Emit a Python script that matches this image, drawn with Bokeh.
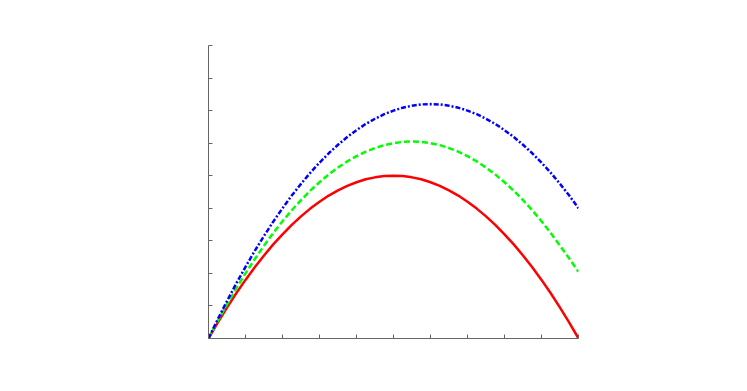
from bokeh.plotting import figure
from bokeh.models import Range1d, LinearAxis, FixedTicker, CustomJSTickFormatter
from bokeh.embed import file_html
from bokeh.resources import INLINE

x_vals = [0, 0.25, 0.5, 0.75, 1, 1.25, 1.5, 1.75, 2, 2.25, 2.5, 2.75, 3, 3.25, 3.5, 3.75,
          4, 4.25, 4.5, 4.75, 5, 5.25, 5.5, 5.75, 6, 6.25, 6.5, 6.75, 7, 7.25, 7.5, 7.75,
          8, 8.25, 8.5, 8.75, 9, 9.25, 9.5, 9.75, 10]
red_vals = [0, 0.49, 0.95, 1.39, 1.8, 2.19, 2.55, 2.89, 3.2, 3.49, 3.75, 3.99, 4.2, 4.39, 4.55, 4.69,
            4.8, 4.89, 4.95, 4.99, 5.0, 4.99, 4.95, 4.89, 4.8, 4.69, 4.55, 4.39, 4.2, 3.99, 3.75, 3.49,
            3.2, 2.89, 2.55, 2.19, 1.8, 1.39, 0.95, 0.49, 0]
green_vals = [0, 0.54, 1.05, 1.54, 2.0, 2.44, 2.85, 3.24, 3.6, 3.94, 4.25, 4.54, 4.8, 5.04, 5.25, 5.44,
              5.6, 5.74, 5.85, 5.94, 6.0, 6.04, 6.05, 6.04, 6.0, 5.94, 5.85, 5.74, 5.6, 5.44, 5.25, 5.04,
              4.8, 4.54, 4.25, 3.94, 3.6, 3.24, 2.85, 2.46, 2.05]
blue_vals = [0, 0.59, 1.15, 1.69, 2.2, 2.69, 3.15, 3.59, 4.0, 4.39, 4.75, 5.09, 5.4, 5.69, 5.95, 6.19,
             6.4, 6.59, 6.75, 6.89, 7.0, 7.09, 7.15, 7.19, 7.2, 7.19, 7.15, 7.09, 7.0, 6.89, 6.75, 6.59,
             6.4, 6.19, 5.95, 5.69, 5.4, 5.09, 4.75, 4.39, 4.0]
x_ticks = [0, 1, 2, 3, 4, 5, 6, 7, 8, 9, 10]
y_ticks = [0, 1, 2, 3, 4, 5, 6, 7, 8, 9]

p = figure(width=731, height=375, output_backend="svg", toolbar_location=None,
           x_range=Range1d(0, 10), y_range=Range1d(0, 9),
           x_axis_type=None, y_axis_type=None,
           min_border_left=208, min_border_right=153, min_border_top=45, min_border_bottom=37)
p.outline_line_color = None
p.xgrid.visible = False
p.ygrid.visible = False

blank = CustomJSTickFormatter(code="return ''")
xa = LinearAxis(ticker=FixedTicker(ticks=x_ticks), formatter=blank)
ya = LinearAxis(ticker=FixedTicker(ticks=y_ticks), formatter=blank)
for ax in (xa, ya):
    ax.axis_line_color = "#666666"
    ax.major_tick_line_color = "#666666"
    ax.major_tick_in = 4
    ax.major_tick_out = 0
    ax.minor_tick_line_color = None
    ax.major_label_text_font_size = "1px"
p.add_layout(xa, "below")
p.add_layout(ya, "left")

p.line(x_vals, red_vals, line_color="#ff0000", line_width=2.5)
p.line(x_vals, green_vals, line_color="#00ff00", line_width=2.5, line_dash="6 3")
p.line(x_vals, blue_vals, line_color="#0000ff", line_width=2.5, line_dash="5 2 2 2")

open("out.html", "w").write(file_html(p, INLINE))
